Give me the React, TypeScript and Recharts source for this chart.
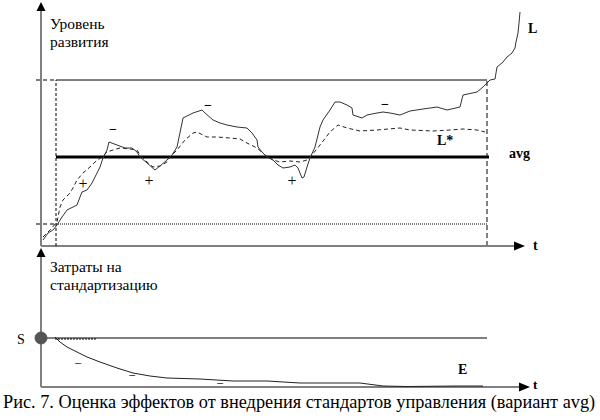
import { ComposedChart, Line, XAxis, YAxis, ReferenceLine, ReferenceDot } from "recharts";

// top panel: level of development, t = time units, v = level units
const levelL: [number, number][] = [
  [0.5, 3], [1.75, 6.5], [3, 8], [4, 10.5], [5.25, 14.5], [6.5, 18], [9, 20.5], [9.75, 24.5],
  [10.25, 27], [11.5, 28], [12.75, 31.5], [13.5, 34.5], [14.75, 39.5], [15.5, 44], [16.5, 48],
  [17, 52], [19, 50.5], [21, 49], [22.75, 49], [24, 47], [24.75, 44.5], [26.5, 41.5], [28.5, 38],
  [29.75, 40], [31.5, 43], [32.75, 45.5], [34, 49.5], [35.25, 61.5], [35.5, 64], [38, 66.5],
  [40.25, 68], [41, 66.5], [43, 63], [44.75, 61.5], [46.5, 60.5], [49, 59.5], [51.5, 59],
  [52.75, 56.5], [54, 53], [54.25, 49.5], [55.25, 47], [56.5, 44.5], [58, 43], [59.25, 40.5],
  [60.5, 39], [62.25, 39.5], [63.5, 40.5], [64.25, 39], [65.25, 34], [65.75, 34.5], [66.5, 39.5],
  [67.25, 44], [68.5, 49.5], [69.75, 59.5], [70.5, 63], [72.25, 68], [73.5, 72], [74.75, 72],
  [76.5, 70.5], [77.75, 69], [78, 65.5], [80.25, 64], [81.5, 65.5], [84, 66.5], [85.5, 67],
  [87.25, 66.5], [89.75, 65.5], [92.25, 67.5], [95.5, 68.5], [99, 69.5], [101.5, 68],
  [104.75, 69.5], [105.5, 75.5], [109, 77], [110.5, 79.5], [112.25, 83], [113.5, 83.5],
  [114, 89.5], [115.5, 92], [116.5, 94.5], [117.75, 96.5], [118.5, 99], [118.75, 102],
  [119.25, 106.5], [119.5, 111.5], [119.75, 117],
];

const levelLStar: [number, number][] = [
  [0.5, 4.5], [2.25, 8], [4, 12], [4.75, 19.5], [5.5, 23], [7.25, 26.5], [8, 29], [9, 33],
  [10.5, 36.5], [12.25, 39.5], [13.5, 42], [15.25, 44.5], [16.5, 47], [18, 48], [19.75, 49],
  [22.25, 48.5], [24, 48], [24.75, 45.5], [26.5, 42], [28, 39.5], [29.75, 40], [31.5, 42],
  [32.25, 44.5], [34, 48], [36, 53], [38, 56.5], [39, 57], [40.5, 55.5], [41.5, 54.5], [44, 54.5],
  [47.25, 54], [49.75, 53.5], [51.5, 51.5], [54, 49], [56, 45.5], [58, 43], [59.75, 42],
  [62.25, 42.5], [64.75, 42], [66.5, 43], [67.75, 45.5], [69.75, 50.5], [72.25, 57], [74.25, 60.5],
  [76.5, 59], [79.75, 57.5], [84, 58], [89.75, 59], [92.25, 58], [98, 57.5], [102.25, 58],
  [105.5, 58.5], [109, 58], [111, 57],
];

// bottom panel: cost of standardisation
const costE: [number, number][] = [
  [3.5, 25], [4.75, 22.5], [6.5, 20], [9, 17.5], [11.5, 15], [14.75, 12.5], [19, 9.5], [23, 7],
  [27.25, 5.5], [31.5, 4.5], [39.75, 4], [48, 3], [56.5, 3], [64.75, 2], [79.75, 2], [85.5, 0.5],
  [91.5, 0.25], [104, 0.5], [110.5, 0.5],
];

const UPPER = 83;
const LOWER = 11;
const AVG = 44.5;
const T_START = 3.75;
const T_END = 111.5;
const S_COST = 24.5;

const topSigns: [number, number, string][] = [
  [18, 58.5, "−"], [41.75, 70.5, "−"], [86, 71, "−"],
  [10.5, 31.5, "+"], [27, 33, "+"], [62.75, 33, "+"],
];
const bottomSigns: [number, number][] = [[9.25, 12], [22.75, 6], [44.75, 2]];

const serif = "'Liberation Serif', 'Times New Roman', serif";
const toPts = (arr: [number, number][]) => arr.map(([t, v]) => ({ t, v }));

function textShape(label: string, size = 14, bold = false, anchor = "start", central = false) {
  return (p: any) => (
    <text
      x={p.cx}
      y={p.cy}
      fontFamily={serif}
      fontSize={size}
      fontWeight={bold ? "bold" : "normal"}
      textAnchor={anchor}
      dominantBaseline={central ? "central" : "auto"}
      fill="#000"
    >
      {label}
    </text>
  );
}

const arrowUp = (p: any) => (
  <polygon points={`${p.cx},${p.cy} ${p.cx - 4.5},${p.cy + 9} ${p.cx + 4.5},${p.cy + 9}`} fill="#000" />
);
const arrowRight = (p: any) => (
  <polygon points={`${p.cx},${p.cy} ${p.cx - 11},${p.cy - 4.5} ${p.cx - 11},${p.cy + 4.5}`} fill="#000" />
);

const AXIS = "#808080";

export default function App() {
  return (
    <div style={{ position: "absolute", left: 0, top: 0, width: 600, height: 420, background: "#fff" }}>
      <div style={{ position: "absolute", left: 0, top: 0 }}>
        <ComposedChart width={600} height={256} margin={{ top: 2, right: 75, bottom: 10, left: 41 }}>
          <XAxis type="number" dataKey="t" domain={[0, 121]} hide />
          <YAxis type="number" domain={[0, 122]} hide />

          <ReferenceLine segment={[{ x: 0, y: 0 }, { x: 0, y: 118 }]} stroke={AXIS} strokeWidth={2} ifOverflow="visible" />
          <ReferenceLine segment={[{ x: 0, y: 0 }, { x: 118.5, y: 0 }]} stroke={AXIS} strokeWidth={2} ifOverflow="visible" />

          <ReferenceLine segment={[{ x: -1.25, y: UPPER }, { x: T_START, y: UPPER }]} stroke="#000" strokeDasharray="4 3" ifOverflow="visible" />
          <ReferenceLine segment={[{ x: T_START, y: UPPER }, { x: T_END, y: UPPER }]} stroke="#000" />
          <ReferenceLine segment={[{ x: -1.25, y: LOWER }, { x: T_START, y: LOWER }]} stroke="#000" strokeDasharray="4 3" ifOverflow="visible" />
          <ReferenceLine segment={[{ x: T_START, y: LOWER }, { x: T_END, y: LOWER }]} stroke="#000" strokeDasharray="1 1" />
          <ReferenceLine segment={[{ x: T_START, y: 0 }, { x: T_START, y: UPPER }]} stroke="#000" strokeDasharray="3 2" />
          <ReferenceLine segment={[{ x: T_END, y: 0 }, { x: T_END, y: UPPER }]} stroke="#808080" strokeWidth={2} strokeDasharray="5 3" />
          <ReferenceLine segment={[{ x: T_START, y: AVG }, { x: T_END + 0.5, y: AVG }]} stroke="#000" strokeWidth={3} />

          <Line data={toPts(levelLStar)} dataKey="v" type="linear" stroke="#222" strokeWidth={1} strokeDasharray="4 3" dot={false} isAnimationActive={false} />
          <Line data={toPts(levelL)} dataKey="v" type="linear" stroke="#333" strokeWidth={1} dot={false} isAnimationActive={false} />

          <ReferenceDot x={0} y={122} r={0} shape={arrowUp} ifOverflow="visible" />
          <ReferenceDot x={121} y={0} r={0} shape={arrowRight} ifOverflow="visible" />

          {topSigns.map(([t, v, s], i) => (
            <ReferenceDot key={i} x={t} y={v} r={0} shape={textShape(s, s === "+" ? 16 : 14, s === "−", "middle", true)} />
          ))}

          <ReferenceDot x={2.25} y={108.5} r={0} shape={textShape("Уровень", 15.5)} />
          <ReferenceDot x={2.25} y={99.5} r={0} shape={textShape("развития", 15.5)} />
          <ReferenceDot x={121.75} y={106.5} r={0} shape={textShape("L", 14, true)} ifOverflow="visible" />
          <ReferenceDot x={99} y={50.5} r={0} shape={textShape("L*", 14, true)} />
          <ReferenceDot x={117} y={44} r={0} shape={textShape("avg", 14, true)} />
          <ReferenceDot x={123} y={-2} r={0} shape={textShape("t", 14, true)} ifOverflow="visible" />
        </ComposedChart>
      </div>

      <div style={{ position: "absolute", left: 0, top: 240 }}>
        <ComposedChart width={600} height={160} margin={{ top: 8, right: 70, bottom: 13, left: 41 }}>
          <XAxis type="number" dataKey="t" domain={[0, 122.25]} hide />
          <YAxis type="number" domain={[0, 69.5]} hide />

          <ReferenceLine segment={[{ x: 0, y: 0 }, { x: 0, y: 65.5 }]} stroke={AXIS} strokeWidth={2} ifOverflow="visible" />
          <ReferenceLine segment={[{ x: 0, y: 0 }, { x: 119.75, y: 0 }]} stroke={AXIS} strokeWidth={2} ifOverflow="visible" />

          <ReferenceLine segment={[{ x: 0, y: S_COST }, { x: T_END, y: S_COST }]} stroke="#000" />
          <ReferenceLine segment={[{ x: 3.5, y: S_COST - 0.5 }, { x: 14, y: S_COST - 0.5 }]} stroke="#000" strokeDasharray="2 1" />

          <Line data={toPts(costE)} dataKey="v" type="linear" stroke="#222" strokeWidth={1} dot={false} isAnimationActive={false} />

          <ReferenceDot x={0} y={S_COST} r={6} fill="#555" stroke="#555" />
          <ReferenceDot x={0} y={69.5} r={0} shape={arrowUp} ifOverflow="visible" />
          <ReferenceDot x={122.25} y={0} r={0} shape={arrowRight} ifOverflow="visible" />

          {bottomSigns.map(([t, v], i) => (
            <ReferenceDot key={i} x={t} y={v} r={0} shape={textShape("−", 13, false, "middle", true)} />
          ))}

          <ReferenceDot x={2.25} y={57.5} r={0} shape={textShape("Затраты на", 15.5)} />
          <ReferenceDot x={2.25} y={48.5} r={0} shape={textShape("стандартизацию", 15.5)} />
          <ReferenceDot x={-6} y={21.5} r={0} shape={textShape("S", 14)} ifOverflow="visible" />
          <ReferenceDot x={104.25} y={6.5} r={0} shape={textShape("E", 14, true)} />
          <ReferenceDot x={123} y={-1} r={0} shape={textShape("t", 13, true)} ifOverflow="visible" />
        </ComposedChart>
      </div>

      <div
        style={{
          position: "absolute",
          left: 3,
          top: 396,
          fontFamily: serif,
          fontSize: 18.3,
          lineHeight: "12px",
          whiteSpace: "nowrap",
          color: "#000",
        }}
      >
        Рис. 7. Оценка эффектов от внедрения стандартов управления (вариант avg)
      </div>
    </div>
  );
}
